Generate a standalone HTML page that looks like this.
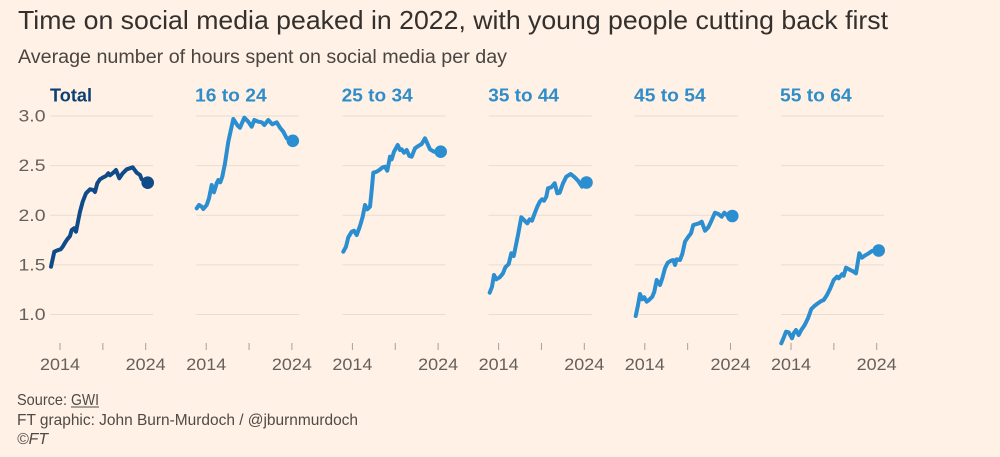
<!DOCTYPE html>
<html>
<head>
<meta charset="utf-8">
<style>
  html, body { margin: 0; padding: 0; background: #FFF1E5; }
  svg { display: block; }
  text { font-family: "Liberation Sans", sans-serif; }
</style>
</head>
<body>
<svg width="1000" height="457" viewBox="0 0 1000 457" xmlns="http://www.w3.org/2000/svg">
  <rect width="1000" height="457" fill="#FFF1E5"/>

  <!-- Title / subtitle -->
  <text x="18" y="29" font-size="26" fill="#33302E" textLength="870" lengthAdjust="spacingAndGlyphs">Time on social media peaked in 2022, with young people cutting back first</text>
  <text x="18" y="63" font-size="19" fill="#4A4541" textLength="489" lengthAdjust="spacingAndGlyphs">Average number of hours spent on social media per day</text>

  <!-- Panel labels -->
  <g font-size="18" font-weight="bold">
    <text x="50" y="101.5" fill="#0D3F73" textLength="42" lengthAdjust="spacingAndGlyphs">Total</text>
    <text x="195" y="101.5" fill="#2F8DCA" textLength="71.7" lengthAdjust="spacingAndGlyphs">16 to 24</text>
    <text x="341.7" y="101.5" fill="#2F8DCA" textLength="71" lengthAdjust="spacingAndGlyphs">25 to 34</text>
    <text x="488.3" y="101.5" fill="#2F8DCA" textLength="70.7" lengthAdjust="spacingAndGlyphs">35 to 44</text>
    <text x="634" y="101.5" fill="#2F8DCA" textLength="71.7" lengthAdjust="spacingAndGlyphs">45 to 54</text>
    <text x="780" y="101.5" fill="#2F8DCA" textLength="71.7" lengthAdjust="spacingAndGlyphs">55 to 64</text>
  </g>

  <!-- Gridlines -->
  <g stroke="#E9DCD0" stroke-width="1">
    <g id="grid">
      <line x1="50" y1="116" x2="153" y2="116"/>
      <line x1="50" y1="165.6" x2="153" y2="165.6"/>
      <line x1="50" y1="215.3" x2="153" y2="215.3"/>
      <line x1="50" y1="264.9" x2="153" y2="264.9"/>
      <line x1="50" y1="314.5" x2="153" y2="314.5"/>
    </g>
    <use href="#grid" transform="translate(146.2,0)"/>
    <use href="#grid" transform="translate(292.4,0)"/>
    <use href="#grid" transform="translate(438.6,0)"/>
    <use href="#grid" transform="translate(584.8,0)"/>
    <use href="#grid" transform="translate(731,0)"/>
  </g>

  <!-- Y labels -->
  <g font-size="17" fill="#66605C" text-anchor="end">
    <text x="45.5" y="121.5" textLength="27" lengthAdjust="spacingAndGlyphs">3.0</text>
    <text x="45.5" y="171.1" textLength="27" lengthAdjust="spacingAndGlyphs">2.5</text>
    <text x="45.5" y="220.8" textLength="27" lengthAdjust="spacingAndGlyphs">2.0</text>
    <text x="45.5" y="270.4" textLength="27" lengthAdjust="spacingAndGlyphs">1.5</text>
    <text x="45.5" y="320" textLength="27" lengthAdjust="spacingAndGlyphs">1.0</text>
  </g>

  <!-- Ticks and x labels -->
  <g id="xaxis">
    <g stroke="#A8A09A" stroke-width="1">
      <line x1="60" y1="343" x2="60" y2="350"/>
      <line x1="102.85" y1="343" x2="102.85" y2="350"/>
      <line x1="145.7" y1="343" x2="145.7" y2="350"/>
    </g>
    <g font-size="17" fill="#66605C" text-anchor="middle">
      <text x="60" y="370" textLength="40" lengthAdjust="spacingAndGlyphs">2014</text>
      <text x="145.7" y="370" textLength="40" lengthAdjust="spacingAndGlyphs">2024</text>
    </g>
  </g>
  <use href="#xaxis" transform="translate(146.2,0)"/>
  <use href="#xaxis" transform="translate(292.4,0)"/>
  <use href="#xaxis" transform="translate(438.6,0)"/>
  <use href="#xaxis" transform="translate(584.8,0)"/>
  <use href="#xaxis" transform="translate(731,0)"/>

  <!-- Series -->
  <g fill="none" stroke-width="4" stroke-linejoin="round" stroke-linecap="round">
    <polyline stroke="#0F4A89" points="51,266.7 54.3,251.7 58.3,250 60.7,249.3 62.7,246.7 65,242.7 67.3,239.3 70,236 71.7,230 74,228.3 76,231.7 78.3,220 80,211.7 82.7,201.7 86,193.3 90,189.3 93.3,190 95,192 97.3,183.3 100,179.3 103.3,177.3 106,176 108.3,173.3 110,175.3 113.3,172.7 116,170 119.3,178.3 122.7,173.3 126.7,169.3 132.7,167.3 136.7,172.7 140,175 141.7,179.3 147.7,182.7"/>
    <polyline stroke="#2B8ED0" points="196.7,208.3 199,205 201.7,206.7 203.3,209 206.7,205 209,198.3 211.7,185 214,192.3 216.7,183.3 218.3,180 220.3,182.3 222.3,176.7 225,163.3 228.3,141.7 233.3,119 237.7,125.7 240,127.7 244.3,117.7 248.3,121.7 251.7,126.7 254.3,120 258.3,121.7 261.7,122.3 264.3,125 268.3,120 272.3,124.3 276.7,122.3 280,127.7 283.3,131.7 286.7,138.3 292.3,141"/>
    <polyline stroke="#2B8ED0" points="343.3,251.7 346,246.7 348.3,237.3 351.7,231.7 354,230.7 356.7,235 360,226 362.7,216.7 365,205 367.3,209.3 370,206.7 371.7,190 373.3,172.7 376.7,171.7 379.3,170 382.7,167.3 385,166.7 387.3,170.7 390,156.7 391.7,159.3 394,151.7 397.7,145 400,150 401.7,149.3 404,152.7 406.7,150 409.3,156 411.7,156.7 415,148.3 418.3,146 421.7,144 425,138.3 427.3,143.3 430,149.3 434,151.7 440.7,151.7"/>
    <polyline stroke="#2B8ED0" points="489.7,292.7 492,286.7 494,275 496.3,279.3 499.7,277.3 503,273.3 505.3,267.3 508.7,264 511.3,253.3 513.7,256 515.3,248.3 518,235 521.3,217.3 524.7,220.7 527.3,223.3 529.7,219.3 532,220.7 534.7,213.3 537.3,206.7 539.7,201.7 542,199.3 544,200.7 546.3,196.7 548,188.3 551.3,187.3 554.7,183.3 557.3,193.3 559.7,192.7 563,183.3 566.3,176.7 570.7,174 574.7,177.3 578,180.7 582,186.7 586.3,182.7"/>
    <polyline stroke="#2B8ED0" points="635.7,316 637.7,306.7 640,294 642.3,299.3 644.3,297.3 646.7,301.7 649,300 652.3,296.7 654.3,291.7 656.7,280 660,285 662.3,278.3 665,268.3 667.7,262.7 671,260.7 673.3,260 675,265 676.7,259.3 680,260 682.3,254 685,241.7 688.3,236.7 691,233.3 693.3,225 696.7,224 699,223.3 701.7,221.7 705,230.7 708.3,227.3 711,221.7 715,212.7 718.3,214 721.7,216.7 724.3,212.7 727.7,216 732.3,216"/>
    <polyline stroke="#2B8ED0" points="781.3,343.3 783.7,337.7 786,331.7 788.7,332.3 792,338.3 793.7,333.3 796,330 798.7,335 801.3,330 804.7,325 808,318.3 811.3,309 814.7,305.7 818,303.3 821.3,301 823.7,300 827,295 830.3,288.3 833.7,280 837,276.7 838.7,278.3 842,274.3 843.7,275.7 846,267.7 850.3,270 853.7,271.7 856,273.3 859.3,253.3 862,257.7 864.7,255.7 868.7,253.3 872,251 878.7,250"/>
  </g>
  <g>
    <circle cx="147.7" cy="182.7" r="6.3" fill="#0F4A89"/>
    <circle cx="292.8" cy="140.8" r="6.3" fill="#2B8ED0"/>
    <circle cx="440.7" cy="151.7" r="6.3" fill="#2B8ED0"/>
    <circle cx="586.5" cy="182.5" r="6.3" fill="#2B8ED0"/>
    <circle cx="732.3" cy="216" r="6.3" fill="#2B8ED0"/>
    <circle cx="878.7" cy="250.5" r="6.3" fill="#2B8ED0"/>
  </g>

  <!-- Footer -->
  <g font-size="16" fill="#4F4A46">
    <text x="17" y="405" textLength="50" lengthAdjust="spacingAndGlyphs">Source:</text>
    <text x="71" y="405" textLength="28" lengthAdjust="spacingAndGlyphs">GWI</text>
    <line x1="71" y1="407" x2="99" y2="407" stroke="#4F4A46" stroke-width="1"/>
    <text x="17" y="425" textLength="341" lengthAdjust="spacingAndGlyphs">FT graphic: John Burn-Murdoch / @jburnmurdoch</text>
    <text x="17" y="444" font-style="italic" textLength="31" lengthAdjust="spacingAndGlyphs">©FT</text>
  </g>
</svg>
</body>
</html>
